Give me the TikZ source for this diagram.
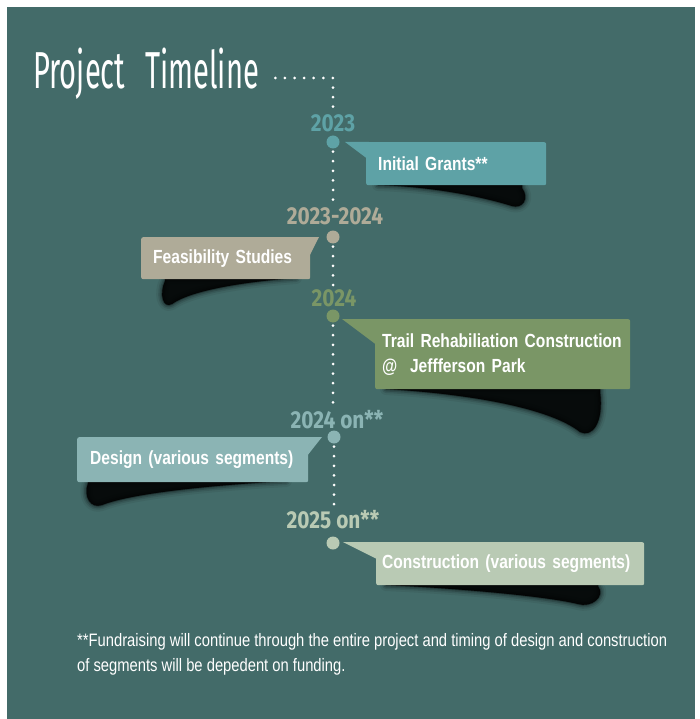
\documentclass[tikz,border=0pt]{standalone}
\usepackage{fontspec}
\setmainfont{Liberation Sans}[FakeStretch=0.82]
\newfontfamily\titlefont{Fira Sans}[FakeStretch=0.56]
\newfontfamily\yearfont{Fira Sans}[FakeStretch=0.85]
\usetikzlibrary{calc}

\definecolor{bg}{HTML}{436B69}
\definecolor{grant}{HTML}{5EA2A6}
\definecolor{study}{HTML}{AFAB98}
\definecolor{trail}{HTML}{7A9666}
\definecolor{design}{HTML}{8BB4B4}
\definecolor{build}{HTML}{B9CAB4}

% soft black shadow under a box
\newcommand\smudge[1]{%
  \foreach \w/\o in {12/0.06,8/0.1,5/0.15,2/0.25}{\filldraw[black, opacity=\o, line width=\w pt, line join=round] #1;}
  \fill[black, opacity=0.8] #1;}

\begin{document}
\begin{tikzpicture}[x=1pt, y=-1pt,
    year/.style={font=\yearfont\bfseries\fontsize{24.5}{26}\selectfont, inner sep=0pt},
    spot/.style={circle, inner sep=0pt, minimum size=13pt},
    panel/.style={anchor=north west, rounded corners=2pt, align=left, inner ysep=0pt,
                  text=white, font=\bfseries\fontsize{19}{25}\selectfont},
    dotline/.style={white, line width=3pt, line cap=round, dash pattern=on 0pt off 9.6pt}]
  \useasboundingbox (0,0) rectangle (699,719);
  \fill[white] (0,0) rectangle (699,719);
  \fill[bg] (7,7) rectangle (695,719);

  % title
  \node[anchor=base west, inner sep=0pt, text=white,
        font=\titlefont\fontsize{52}{52}\selectfont] (title) at (33,89)
        {\spaceskip=20pt Project Timeline};

  % years
  \node[year, text=grant]  (y1) at (333,123) {2023};
  \node[year, text=study]  (y2) at (335,216) {2023-2024};
  \node[year, text=trail]  (y3) at (334,298) {2024};
  \node[year, text=design] (y4) at (337,420) {2024 on**};
  \node[year, text=build]  (y5) at (333,520) {2025 on**};

  % dotted line
  \draw[dotline] ([xshift=16pt, yshift=11pt]title.base east) -| ([yshift=4pt]y1.north);
  \coordinate (d1) at (333,142);
  \coordinate (d2) at (333,237);
  \coordinate (d3) at (333,316);
  \coordinate (d4) at (334,437);
  \coordinate (d5) at (333,543);
  \draw[dotline, shorten >=4pt] (d1) -- (y2.north -| d1);
  \draw[dotline, shorten >=4pt] (d2) -- (y3.north -| d2);
  \draw[dotline, shorten >=4pt] (d3) -- (y4.north -| d3);
  \draw[dotline, shorten >=4pt] (d4) -- (y5.north -| d4);

  % shadows
  \smudge{(378,185) .. controls (440,187) and (490,199) .. (512,206) .. controls (522,209) and (530,199) .. (522,188) -- (522,184) -- (378,184) -- cycle}
  \smudge{(296,278) .. controls (240,282) and (190,291) .. (172,304) .. controls (163,309) and (159,294) .. (165,281) -- (165,278) -- cycle}
  \smudge{(386,389) .. controls (470,394) and (550,408) .. (580,432) .. controls (592,438) and (604,423) .. (600,392) -- (600,388) -- (386,388) -- cycle}
  \smudge{(286,481) .. controls (200,486) and (130,494) .. (102,505) .. controls (91,509) and (83,497) .. (88,483) -- (88,481) -- cycle}
  \smudge{(386,585) .. controls (470,589) and (550,597) .. (578,604) .. controls (591,608) and (606,597) .. (598,586) -- (598,584) -- (386,584) -- cycle}

  % boxes
  \node[panel, fill=grant, minimum width=180pt, minimum height=43pt, inner xsep=12pt, text width=156pt]
    (b1) at (366,142) {Initial Grants**};
  \node[panel, fill=study, minimum width=169pt, minimum height=42pt, inner xsep=12pt, text width=145pt]
    (b2) at (141,237) {Feasibility Studies};
  \node[panel, fill=trail, minimum width=255pt, minimum height=70pt, inner xsep=7pt, text width=241pt]
    (b3) at (375,319) {Trail Rehabiliation Construction\\@\ \ Jeffferson Park};
  \node[panel, fill=design, minimum width=219pt, minimum height=45pt, inner xsep=13pt, text width=205pt]
    (b4) at (77,437) {Design (various segments)};
  \node[panel, fill=build, minimum width=268pt, minimum height=43pt, inner xsep=6pt, text width=256pt]
    (b5) at (376,542) {Construction (various segments)};

  % pointers
  \fill[grant]  ($(d1 |- b1.north)+(12,0)$) -- ([xshift=3pt]b1.north west) -- ([xshift=3pt, yshift=-18pt]b1.north west) -- cycle;
  \fill[study]  ($(d2 |- b2.north)+(-14,0)$) -- ([xshift=-3pt]b2.north east) -- ([xshift=-3pt, yshift=-23pt]b2.north east) -- cycle;
  \fill[trail]  ($(d3 |- b3.north)+(9,0)$) -- ([xshift=3pt]b3.north west) -- ([xshift=3pt, yshift=-27pt]b3.north west) -- cycle;
  \fill[design] ($(d4 |- b4.north)+(-12,0)$) -- ([xshift=-3pt]b4.north east) -- ([xshift=-3pt, yshift=-21pt]b4.north east) -- cycle;
  \fill[build]  ($(d5 |- b5.north)+(10,0)$) -- ([xshift=3pt]b5.north west) -- ([xshift=3pt, yshift=-18pt]b5.north west) -- cycle;

  % stops
  \node[spot, fill=grant]  (s1) at (d1) {};
  \node[spot, fill=study]  (s2) at (d2) {};
  \node[spot, fill=trail]  (s3) at (d3) {};
  \node[spot, fill=design] (s4) at (d4) {};
  \node[spot, fill=build]  (s5) at (d5) {};

  % footnote
  \node[anchor=north west, inner sep=0pt, align=left, text=white, font=\fontsize{18}{25}\selectfont] (note) at (77,633)
    {**Fundraising will continue through the entire project and timing of design and construction\\of segments will be depedent on funding.};
\end{tikzpicture}
\end{document}
